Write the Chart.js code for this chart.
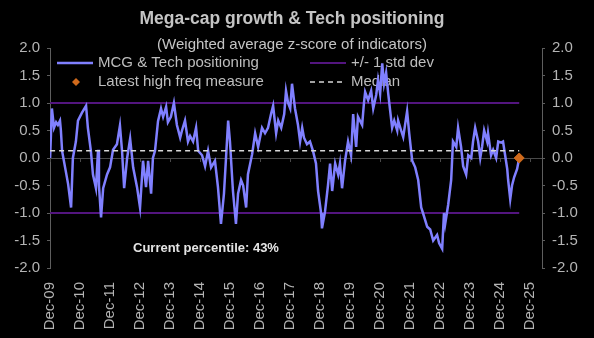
<!DOCTYPE html>
<html>
<head>
<meta charset="utf-8">
<script src="https://cdn.jsdelivr.net/npm/chart.js@4.4.1/dist/chart.umd.min.js"></script>
<style>
  html, body { margin: 0; padding: 0; background: #000; }
  #wrap { width: 594px; height: 338px; }
</style>
</head>
<body>
<div id="wrap"><canvas id="chart"></canvas></div>
<script>
// MCG & Tech positioning, weighted average z-score (decimal years)
const dates = [
  2009.92, 2009.95, 2009.98, 2010.05, 2010.12, 2010.18, 2010.25, 2010.28, 2010.32, 2010.42,
  2010.52, 2010.62, 2010.68, 2010.78, 2010.85, 2010.98, 2011.12, 2011.18, 2011.28, 2011.35,
  2011.45, 2011.52, 2011.55, 2011.62, 2011.69, 2011.82, 2011.92, 2012.02, 2012.15, 2012.25,
  2012.32, 2012.39, 2012.49, 2012.59, 2012.69, 2012.82, 2012.92, 2013.02, 2013.12, 2013.19,
  2013.29, 2013.35, 2013.42, 2013.52, 2013.62, 2013.69, 2013.79, 2013.85, 2013.95, 2014.05,
  2014.15, 2014.26, 2014.32, 2014.42, 2014.52, 2014.59, 2014.69, 2014.79, 2014.86, 2014.99,
  2015.09, 2015.19, 2015.29, 2015.42, 2015.52, 2015.62, 2015.72, 2015.86, 2015.92, 2016.02,
  2016.12, 2016.19, 2016.29, 2016.36, 2016.46, 2016.52, 2016.66, 2016.76, 2016.86, 2016.99,
  2017.09, 2017.19, 2017.29, 2017.36, 2017.46, 2017.53, 2017.63, 2017.73, 2017.79, 2017.86,
  2017.93, 2017.99, 2018.09, 2018.19, 2018.26, 2018.33, 2018.39, 2018.49, 2018.59, 2018.69,
  2018.79, 2018.86, 2018.96, 2018.99, 2019.09, 2019.19, 2019.26, 2019.33, 2019.43, 2019.53,
  2019.59, 2019.66, 2019.76, 2019.86, 2019.96, 2020.03, 2020.13, 2020.19, 2020.33, 2020.39,
  2020.43, 2020.53, 2020.63, 2020.70, 2020.80, 2020.86, 2020.93, 2021.00, 2021.06, 2021.13,
  2021.20, 2021.26, 2021.33, 2021.40, 2021.50, 2021.53, 2021.63, 2021.70, 2021.83, 2021.90,
  2022.00, 2022.10, 2022.20, 2022.30, 2022.36, 2022.50, 2022.60, 2022.70, 2022.83, 2022.90,
  2023.00, 2023.06, 2023.10, 2023.20, 2023.30, 2023.36, 2023.47, 2023.53, 2023.63, 2023.70,
  2023.80, 2023.87, 2023.97, 2024.03, 2024.10, 2024.20, 2024.27, 2024.33, 2024.40, 2024.50,
  2024.53, 2024.63, 2024.70, 2024.80, 2024.87, 2024.97, 2025.03, 2025.10, 2025.17, 2025.20,
  2025.27, 2025.33, 2025.40, 2025.50, 2025.57
];
const positioning = [
  0.00, 0.00, 0.90, 0.55, 0.65, 0.60, 0.68, 0.50, 0.13, -0.17,
  -0.47, -0.90, 0.00, 0.30, 0.68, 0.82, 0.95, 0.55, 0.13, -0.30,
  -0.55, 0.15, -0.50, -1.08, -0.55, -0.30, -0.17, 0.15, 0.25, 0.59,
  0.13, -0.55, 0.00, 0.35, -0.17, -0.53, -0.90, -0.05, -0.53, -0.05,
  -0.65, 0.00, 0.13, 0.67, 0.90, 0.75, 0.93, 0.65, 0.75, 1.00,
  0.60, 0.37, 0.50, 0.68, 0.30, 0.40, 0.30, 0.55, 0.13, 0.05,
  -0.15, 0.13, -0.17, -0.05, -0.53, -1.20, -0.65, 0.68, 0.30, -0.60,
  -1.20, -0.65, -0.40, -0.50, -0.90, -0.30, 0.07, 0.45, 0.20, 0.55,
  0.45, 0.55, 0.80, 0.95, 0.45, 0.68, 0.55, 0.80, 1.22, 1.00,
  0.90, 1.35, 0.90, 0.60, 0.30, 0.55, 0.37, 0.25, 0.30, 0.13,
  -0.10, -0.60, -1.00, -1.28, -0.98, -0.50, -0.10, -0.60, -0.10, -0.30,
  -0.10, -0.55, -0.05, 0.30, 0.05, 0.80, 0.20, 0.75, 0.60, 1.00,
  1.20, 1.05, 1.22, 0.90, 1.15, 1.42, 1.17, 1.72, 1.35, 1.55,
  1.17, 0.88, 0.55, 0.68, 0.50, 0.68, 0.50, 0.38, 0.85, 0.45,
  -0.05, -0.17, -0.40, -0.90, -1.00, -1.25, -1.30, -1.50, -1.40, -1.55,
  -1.65, -1.00, -1.20, -0.85, -0.40, 0.30, 0.20, 0.55, 0.20, -0.15,
  -0.30, 0.05, 0.00, 0.30, 0.55, 0.30, 0.00, 0.20, 0.50, 0.30,
  0.45, 0.05, 0.15, 0.00, 0.30, 0.28, 0.30, 0.05, -0.20, -0.40,
  -0.75, -0.50, -0.35, -0.20, 0.00
];

const tickYears = [2009, 2010, 2011, 2012, 2013, 2014, 2015, 2016, 2017,
                   2018, 2019, 2020, 2021, 2022, 2023, 2024, 2025];
const tickLabels = tickYears.map(y => 'Dec-' + String(y % 100).padStart(2, '0'));

const median = 0.13;
const stdDev = 1;
const latestMeasure = 0.0;
const percentile = 43;

const FONT = "'Liberation Sans', Arial, sans-serif";
const DEC = 11 / 12;          // December offset within a year
const xMin = 2009 + DEC;
const xMax = 2026.33;
const first = dates[0];
const last = dates[dates.length - 1];

const seriesPoints = dates.map((d, i) => ({ x: d, y: positioning[i] }));
const flatLine = v => [{ x: first, y: v }, { x: last, y: v }];

// Titles, legend, zero-line ticks and percentile note drawn straight on the canvas
const overlay = {
  id: 'overlay',
  beforeDatasetsDraw(chart) {
    const c = chart.ctx;
    const ds = chart.data.datasets;
    const xs = chart.scales.x, ys = chart.scales.y;
    c.save();

    // small year ticks hanging under the zero line
    const y0 = ys.getPixelForValue(0);
    c.strokeStyle = '#4a4a4a'; c.lineWidth = 1;
    tickYears.forEach(y => {
      const px = Math.round(xs.getPixelForValue(y + DEC)) + 0.5;
      c.beginPath(); c.moveTo(px, y0); c.lineTo(px, y0 + 4); c.stroke();
    });

    c.font = '15px ' + FONT;
    c.fillStyle = '#bdbdbd';
    c.textBaseline = 'middle';

    const col1 = 57, col2 = 310, row1 = 63, row2 = 82;

    // series line
    c.strokeStyle = ds[2].borderColor; c.lineWidth = 2.5;
    c.beginPath(); c.moveTo(col1, row1); c.lineTo(col1 + 36, row1); c.stroke();
    c.fillText(ds[2].label, col1 + 41, row1);

    // std dev band
    c.strokeStyle = ds[3].borderColor; c.lineWidth = 2;
    c.beginPath(); c.moveTo(col2, row1); c.lineTo(col2 + 36, row1); c.stroke();
    c.fillText(ds[3].label, col2 + 41, row1);

    // latest diamond
    c.fillStyle = ds[0].backgroundColor;
    c.beginPath();
    c.moveTo(col1 + 19, row2 - 4); c.lineTo(col1 + 23, row2);
    c.lineTo(col1 + 19, row2 + 4); c.lineTo(col1 + 15, row2);
    c.closePath(); c.fill();
    c.fillStyle = '#bdbdbd';
    c.fillText(ds[0].label, col1 + 41, row2);

    // median dashes
    c.strokeStyle = ds[1].borderColor; c.lineWidth = 1.5;
    c.setLineDash([5, 4]);
    c.beginPath(); c.moveTo(col2, row2); c.lineTo(col2 + 36, row2); c.stroke();
    c.setLineDash([]);
    c.fillText(ds[1].label, col2 + 41, row2);
    c.restore();
  },
  afterDraw(chart) {
    const c = chart.ctx;
    c.save();
    c.textAlign = 'center';
    c.textBaseline = 'middle';
    c.fillStyle = '#c4c4c4';
    c.font = 'bold 17.5px ' + FONT;
    c.fillText('Mega-cap growth & Tech positioning', 292, 19);
    c.font = '15px ' + FONT;
    c.fillText('(Weighted average z-score of indicators)', 292, 45);
    c.textAlign = 'left';
    c.fillStyle = '#e4e4e4';
    c.font = 'bold 13px ' + FONT;
    c.fillText('Current percentile: ' + percentile + '%', 133, 248);
    c.restore();
  }
};

const yTicks = {
  min: -2, max: 2,
  ticks: {
    stepSize: 0.5, color: '#b4b4b4', padding: 7,
    font: { family: FONT, size: 15 },
    callback: v => v.toFixed(1)
  },
  border: { display: true, color: '#5e5e5e', width: 1 },
  grid: {
    color: c => c.tick && c.tick.value === 0 ? '#4a4a4a' : 'rgba(0,0,0,0)',
    tickColor: '#5e5e5e', tickLength: 3, lineWidth: 1
  }
};

new Chart(document.getElementById('chart'), {
  type: 'line',
  data: {
    datasets: [
      {
        label: 'Latest high freq measure',
        data: [{ x: last, y: latestMeasure }],
        backgroundColor: '#d06a1c', borderColor: '#d06a1c',
        pointStyle: 'rectRot', pointRadius: 5, showLine: false, order: 0
      },
      {
        label: 'Median',
        data: flatLine(median),
        borderColor: '#d8d8d8', borderWidth: 1.5, borderDash: [5, 4],
        pointRadius: 0, order: 1
      },
      {
        label: 'MCG & Tech positioning',
        data: seriesPoints,
        borderColor: '#8080ff', borderWidth: 2.5,
        pointRadius: 0, tension: 0, order: 2
      },
      {
        label: '+/- 1 std dev',
        data: flatLine(stdDev),
        borderColor: '#53157f', borderWidth: 2, pointRadius: 0, order: 3
      },
      {
        label: '+/- 1 std dev',
        data: flatLine(-stdDev),
        borderColor: '#53157f', borderWidth: 2, pointRadius: 0, order: 4
      }
    ]
  },
  options: {
    responsive: true,
    maintainAspectRatio: false,
    animation: false,
    layout: { padding: { top: 48, left: 0, right: 0, bottom: 0 } },
    plugins: { legend: { display: false }, tooltip: { enabled: false } },
    scales: {
      x: {
        type: 'linear', min: xMin, max: xMax,
        grid: { display: false },
        border: { display: false },
        afterBuildTicks: s => { s.ticks = tickYears.map(y => ({ value: y + DEC })); },
        afterFit: s => { s.height = 70; },
        ticks: {
          color: '#b4b4b4', padding: 6, autoSkip: false,
          minRotation: 90, maxRotation: 90,
          font: { family: FONT, size: 15 },
          callback: (v, i) => tickLabels[i]
        }
      },
      y: Object.assign({ position: 'left', afterFit: s => { s.width = 50; } }, yTicks),
      y2: Object.assign({ position: 'right', afterFit: s => { s.width = 52; } }, yTicks)
    }
  },
  plugins: [overlay]
});
</script>
</body>
</html>
